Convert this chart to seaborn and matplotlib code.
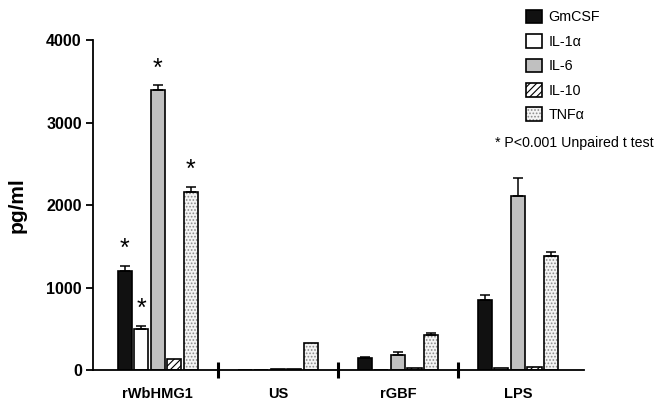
import pandas as pd
import matplotlib
matplotlib.use("Agg")
import matplotlib.pyplot as plt
import seaborn as sns

# --------------------------
# Data
# --------------------------
groups = ["rWbHMG1", "US", "rGBF", "LPS"]
cytokines = ["GmCSF", "IL-1\u03b1", "IL-6", "IL-10", "TNF\u03b1"]

gmcsf = [1203, 5, 145, 845]
il1a = [498, 5, 5, 30]
il6 = [3395, 15, 180, 2115]
il10 = [130, 15, 20, 38]
tnfa = [2163, 325, 425, 1385]

gmcsf_err = [60, 0, 15, 65]
il1a_err = [35, 0, 0, 0]
il6_err = [55, 0, 35, 215]
il10_err = [0, 0, 0, 0]
tnfa_err = [60, 0, 25, 50]

# significance stars (rWbHMG1 only)
stars = {"GmCSF": [1, 0, 0, 0], "IL-1\u03b1": [1, 0, 0, 0], "IL-6": [1, 0, 0, 0],
         "IL-10": [0, 0, 0, 0], "TNF\u03b1": [1, 0, 0, 0]}

values = [gmcsf, il1a, il6, il10, tnfa]
errors = [gmcsf_err, il1a_err, il6_err, il10_err, tnfa_err]

rows = []
for name, vals, errs in zip(cytokines, values, errors):
    for g, v, e in zip(groups, vals, errs):
        rows.append({"group": g, "cytokine": name, "value": v, "err": e})
df = pd.DataFrame(rows)

# --------------------------
# Plot
# --------------------------
sns.set_style("ticks")
plt.rcParams["font.family"] = ["Liberation Sans", "DejaVu Sans"]
plt.rcParams["hatch.linewidth"] = 0.8
plt.rcParams["text.color"] = "black"
plt.rcParams["axes.labelcolor"] = "black"
plt.rcParams["xtick.color"] = "black"
plt.rcParams["ytick.color"] = "black"
plt.rcParams["axes.edgecolor"] = "black"

fig = plt.figure(figsize=(6.58, 4.09), dpi=100)
ax = fig.add_axes([0.1413, 0.0954, 0.7462, 0.8066])

palette = ["#111111", "#ffffff", "#c0c0c0", "#ffffff", "#f4f4f4"]
sns.barplot(data=df, x="group", y="value", hue="cytokine", order=groups,
            hue_order=cytokines, palette=palette, width=0.69, gap=0.15,
            edgecolor="black", linewidth=1.2, errorbar=None, legend=False, ax=ax)

bar_conts = list(ax.containers)
hatches = [None, None, None, "/////", "....."]
for cont, h, name in zip(bar_conts, hatches, cytokines):
    sub = df[df["cytokine"] == name].set_index("group").loc[groups]
    xs = [p.get_x() + p.get_width() / 2 for p in cont.patches]
    for p in cont.patches:
        p.set_edgecolor("black")
        if h:
            p.set_hatch(h)
            if h.startswith("."):
                p._hatch_color = (0.55, 0.55, 0.55, 1)
    errs = sub["err"].values
    mask = errs > 0
    ax.errorbar([x for x, m in zip(xs, mask) if m], sub["value"].values[mask],
                yerr=[[0] * mask.sum(), errs[mask]], fmt="none", ecolor="black",
                elinewidth=1.1, capsize=3.5, capthick=1.1, zorder=1)
    for x, v, e, s in zip(xs, sub["value"].values, errs, stars[name]):
        if s:
            ax.text(x, v + e + 60, "*", ha="center", va="bottom", fontsize=18)

ax.set_ylim(0, 4000)
ax.set_xlim(-0.54, 3.55)
ax.set_yticks([0, 1000, 2000, 3000, 4000])
ax.set_xlabel("")
ax.set_ylabel("pg/ml", fontsize=15, fontweight="bold", labelpad=14)
for lab in ax.get_yticklabels():
    lab.set_fontweight("bold")
    lab.set_fontsize(11.5)
for lab in ax.get_xticklabels():
    lab.set_fontweight("bold")
    lab.set_fontsize(10.5)
ax.tick_params(axis="x", which="major", length=0, pad=12)
ax.tick_params(axis="y", which="major", length=5, width=1.3, pad=3)
ax.set_xticks([0.5, 1.5, 2.5], minor=True)
ax.tick_params(axis="x", which="minor", length=11, width=2.2, direction="inout")
for side in ["top", "right"]:
    ax.spines[side].set_visible(False)
for side in ["left", "bottom"]:
    ax.spines[side].set_linewidth(1.3)

handles = [c.patches[0] for c in bar_conts]
fig.legend(handles, cytokines, loc="upper left", bbox_to_anchor=(0.78, 1.008),
           frameon=False, fontsize=10.3, handlelength=1.1, handleheight=1.1,
           labelspacing=0.68, handletextpad=0.45)
fig.text(0.752, 0.65, "* P<0.001 Unpaired t test", fontsize=10.2, va="center")

plt.savefig("out.png", dpi=100)
plt.close()
